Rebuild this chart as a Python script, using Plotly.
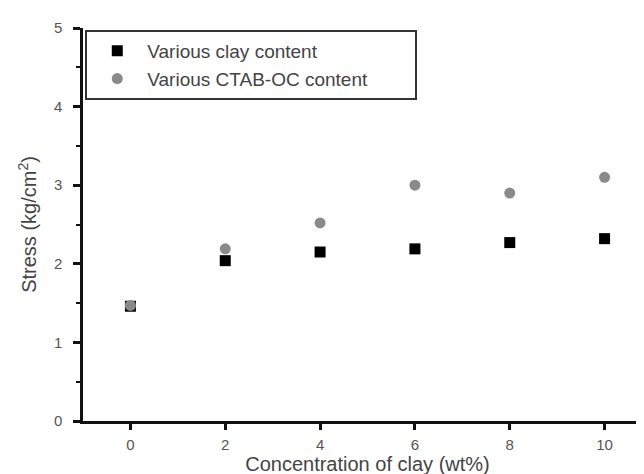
import plotly.graph_objects as go

conc = [0, 2, 4, 6, 8, 10]
clay_stress = [1.46, 2.04, 2.15, 2.19, 2.27, 2.32]
ctab_stress = [1.47, 2.19, 2.52, 3.00, 2.90, 3.10]
x_ticks = [0, 2, 4, 6, 8, 10]
y_ticks = [0, 1, 2, 3, 4, 5]
series_names = ["Various clay content", "Various CTAB-OC content"]

FONT = "Liberation Sans, Arial, sans-serif"
PAD = "\u00a0" * 8  # widen the legend box to match the reference

fig = go.Figure()
fig.add_trace(go.Scatter(
    x=conc, y=clay_stress, mode="markers", name=series_names[0],
    marker=dict(symbol="square", size=11, color="#000000"),
))
fig.add_trace(go.Scatter(
    x=conc, y=ctab_stress, mode="markers", name=series_names[1] + PAD,
    marker=dict(symbol="circle", size=11, color="#8a8a8a"),
))

fig.update_layout(
    width=644, height=474,
    margin=dict(l=75, r=0, t=20, b=61),
    paper_bgcolor="white", plot_bgcolor="white",
    font=dict(family=FONT, color="#555555"),
    showlegend=True,
    legend=dict(
        x=0.004, y=0.995, xanchor="left", yanchor="top",
        bordercolor="#333333", borderwidth=2, bgcolor="white",
        font=dict(size=19, color="#444444", family=FONT),
        itemwidth=50,
        tracegroupgap=0,
    ),
    xaxis=dict(
        range=[-1, 11], tickvals=x_ticks,
        showgrid=False, zeroline=False, automargin=False,
        showline=True, linecolor="#111111", linewidth=2.5,
        ticks="outside", ticklen=6, tickwidth=2.5, tickcolor="#111111",
        ticklabelstandoff=2,
        tickfont=dict(size=15, color="#555555"),
        title=dict(text="Concentration of clay (wt%)", font=dict(size=20, color="#444444"), standoff=0),
    ),
    yaxis=dict(
        range=[0, 5], tickvals=y_ticks,
        showgrid=False, zeroline=False, automargin=False,
        showline=True, linecolor="#111111", linewidth=2.5,
        ticks="outside", ticklen=7, tickwidth=2.5, tickcolor="#111111",
        ticklabelstandoff=8,
        tickfont=dict(size=15, color="#555555"),
        minor=dict(dtick=0.5, ticks="outside", ticklen=4, tickwidth=2, tickcolor="#111111"),
        title=dict(text="Stress (kg/cm<sup>2</sup>)", font=dict(size=20, color="#444444"), standoff=12),
    ),
)

fig.write_html("out.html")
